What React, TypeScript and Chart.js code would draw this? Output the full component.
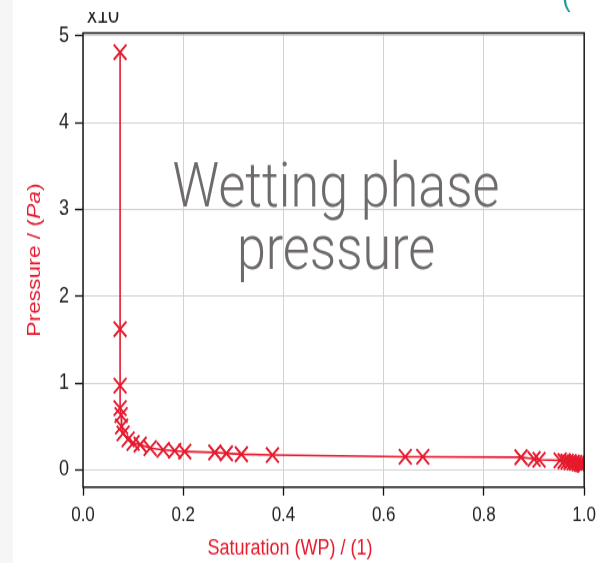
import React, { useEffect, useRef } from "react";
import { Chart, registerables } from "chart.js";

Chart.register(...registerables);

// ---- data ----
const saturation = [
  0.074, 0.074, 0.074, 0.074, 0.076, 0.077, 0.080, 0.090, 0.100, 0.114,
  0.134, 0.160, 0.183, 0.203, 0.263, 0.286, 0.316, 0.378, 0.643, 0.678,
  0.874, 0.900, 0.910, 0.952, 0.960, 0.966, 0.972, 0.978, 0.983, 0.988,
  0.992, 0.995, 0.998, 1.0,
];
const pressure = [
  4.81, 1.62, 0.97, 0.71, 0.63, 0.50, 0.42, 0.35, 0.31, 0.29,
  0.25, 0.23, 0.22, 0.21, 0.20, 0.19, 0.18, 0.17, 0.15, 0.15,
  0.145, 0.125, 0.115, 0.108, 0.10, 0.095, 0.09, 0.085, 0.08, 0.075,
  0.07, 0.066, 0.062, 0.06,
];
const xTicks = [0, 0.2, 0.4, 0.6, 0.8, 1.0];
const yTicks = [0, 1, 2, 3, 4, 5];
const xTitle = "Saturation (WP) / (1)";
const yTitleParts = ["Pressure / (", "Pa", ")"];
const exponentLabel = "x10";
const overlayLines = ["Wetting phase", "pressure"];

// ---- style ----
const W = 602;
const H_CSS = 563;
const STRETCH = 1.2;
const H = Math.round(H_CSS / STRETCH);
const RED = "rgb(230,25,45)";
const TICK_FONT = "Liberation Sans, Arial, sans-serif";
const OVERLAY_FONT = `Roboto, "Noto Sans", sans-serif`;

const decorPlugin = {
  id: "decor",
  beforeDraw(chart: any) {
    const ctx = chart.ctx;
    ctx.save();
    ctx.fillStyle = "#ffffff";
    ctx.fillRect(0, 0, chart.width, chart.height);
    ctx.fillStyle = "#f6f6f6";
    ctx.fillRect(0, 0, 13, chart.height);
    ctx.restore();
  },
  afterDraw(chart: any) {
    const ctx = chart.ctx;
    const a = chart.chartArea;
    ctx.save();
    // frame
    ctx.strokeStyle = "#1a1a1a";
    ctx.lineWidth = 1.5;
    ctx.strokeRect(a.left, a.top, a.right - a.left, a.bottom - a.top);

    // y title with italic unit
    ctx.fillStyle = RED;
    ctx.textBaseline = "middle";
    const fN = `19px ${TICK_FONT}`;
    const fI = `italic 19px ${TICK_FONT}`;
    ctx.font = fN;
    const w0 = ctx.measureText(yTitleParts[0]).width;
    const w2 = ctx.measureText(yTitleParts[2]).width;
    ctx.font = fI;
    const w1 = ctx.measureText(yTitleParts[1]).width;
    const total = w0 + w1 + w2;
    ctx.save();
    ctx.translate(35, (a.top + a.bottom) / 2);
    ctx.rotate(-Math.PI / 2);
    let x = -total / 2;
    ctx.textAlign = "left";
    ctx.font = fN;
    ctx.fillText(yTitleParts[0], x, 0);
    x += w0;
    ctx.font = fI;
    ctx.fillText(yTitleParts[1], x, 0);
    x += w1;
    ctx.font = fN;
    ctx.fillText(yTitleParts[2], x, 0);
    ctx.restore();

    // x title
    ctx.font = `18px ${TICK_FONT}`;
    ctx.textAlign = "center";
    ctx.textBaseline = "middle";
    ctx.fillStyle = RED;
    ctx.fillText(xTitle, 290, 548 / STRETCH);

    // exponent label (clipped at top)
    ctx.save();
    ctx.beginPath();
    ctx.rect(0, 12 / STRETCH, 300, 40);
    ctx.clip();
    ctx.fillStyle = "#222";
    ctx.font = `20px ${TICK_FONT}`;
    ctx.textAlign = "left";
    ctx.textBaseline = "alphabetic";
    ctx.fillText(exponentLabel, 87, 23 / STRETCH);
    ctx.restore();

    // teal glyph at top-right
    ctx.save();
    ctx.beginPath();
    ctx.rect(540, 0, 62, 11);
    ctx.clip();
    ctx.fillStyle = "#1b9c9a";
    ctx.font = `26px ${TICK_FONT}`;
    ctx.textAlign = "left";
    ctx.textBaseline = "alphabetic";
    ctx.fillText("(", 562, 5);
    ctx.restore();

    // overlay text
    ctx.fillStyle = "rgb(110,106,106)";
    ctx.textAlign = "center";
    ctx.textBaseline = "alphabetic";
    ctx.font = `300 44px ${OVERLAY_FONT}`;
    const mw = ctx.measureText(overlayLines[0]).width;
    const size = (44 * 327) / mw;
    ctx.font = `300 ${size}px ${OVERLAY_FONT}`;
    ctx.fillText(overlayLines[0], 336, 206 / STRETCH);
    ctx.fillText(overlayLines[1], 336, 269 / STRETCH);
    ctx.restore();
  },
};

export default function App() {
  const ref = useRef<HTMLCanvasElement | null>(null);
  useEffect(() => {
    if (!ref.current) return;
    const points = saturation.map((s, i) => ({ x: s, y: pressure[i] }));
    const chart = new Chart(ref.current, {
      type: "scatter",
      data: {
        datasets: [
          {
            data: points,
            showLine: true,
            borderColor: RED,
            backgroundColor: RED,
            borderWidth: 1.6,
            pointStyle: "crossRot",
            pointRadius: 9,
            pointBorderWidth: 1.9,
            pointBorderColor: RED,
          },
        ],
      },
      options: {
        responsive: false,
        animation: false,
        events: [],
        layout: { padding: { top: 33 / STRETCH, right: 17, left: 0, bottom: 0 } },
        plugins: { legend: { display: false }, tooltip: { enabled: false } },
        scales: {
          x: {
            type: "linear",
            min: 0,
            max: 1,
            afterBuildTicks: (s: any) => {
              s.ticks = xTicks.map((v) => ({ value: v }));
            },
            afterFit: (s: any) => {
              s.height = H - 487 / STRETCH;
            },
            ticks: {
              callback: (v: any) => Number(v).toFixed(1),
              font: { family: TICK_FONT, size: 17 },
              color: "#222",
              padding: 6,
              maxRotation: 0,
            },
            grid: { color: "#d2d2d2", lineWidth: 1, tickLength: 7, tickColor: "#111", tickWidth: 1.3 },
            border: { display: false },
          },
          y: {
            type: "linear",
            min: -0.2,
            max: 5.03,
            afterBuildTicks: (s: any) => {
              s.ticks = yTicks.map((v) => ({ value: v }));
            },
            afterFit: (s: any) => {
              s.width = 83;
            },
            ticks: {
              callback: (v: any) => String(v),
              font: { family: TICK_FONT, size: 18 },
              color: "#222",
              padding: 6,
            },
            grid: { color: "#d2d2d2", lineWidth: 1, tickLength: 8, tickColor: "#111", tickWidth: 1.3 },
            border: { display: false },
          },
        },
      },
      plugins: [decorPlugin],
    });
    return () => chart.destroy();
  }, []);
  return (
    <div style={{ position: "absolute", left: 0, top: 0, width: W, height: H_CSS }}>
      <canvas
        ref={ref}
        width={W}
        height={H}
        style={{ width: `${W}px`, height: `${H_CSS}px`, display: "block" }}
      />
    </div>
  );
}
